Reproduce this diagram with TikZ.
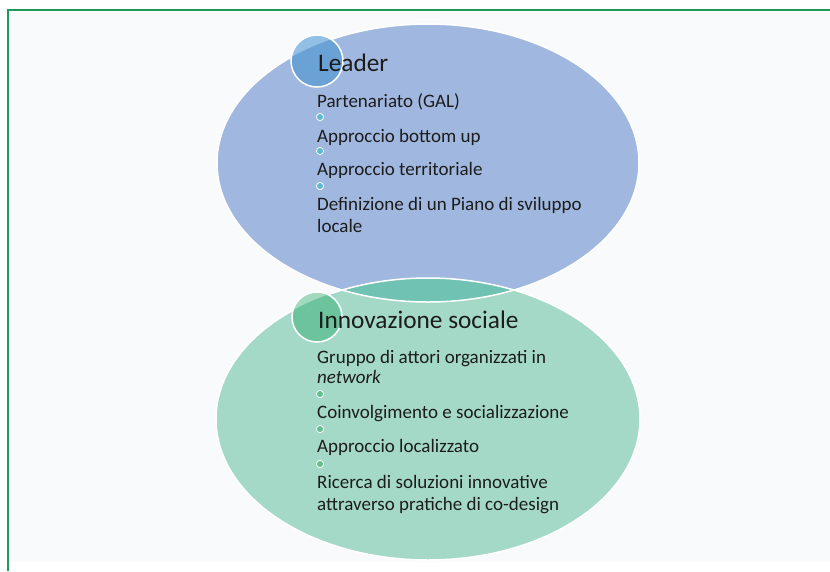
\documentclass[tikz,border=0pt]{standalone}
\usepackage{fontspec}
\setmainfont{Carlito}
\definecolor{framegreen}{HTML}{1E9A5C}
\definecolor{bgc}{HTML}{F9FAFC}
\definecolor{blueE}{HTML}{A0B8DF}
\definecolor{greenE}{HTML}{A4D9C8}
\definecolor{tealO}{HTML}{70C2B3}
\definecolor{blueC}{HTML}{6AA2D6}
\definecolor{blueCl}{HTML}{92BFE6}
\definecolor{greenC}{HTML}{6CC49C}
\definecolor{greenCl}{HTML}{A2D9BF}
\definecolor{blueDot}{HTML}{5DBAD3}
\definecolor{greenDot}{HTML}{62BE8E}
\definecolor{txt}{HTML}{1C1C1C}
\begin{document}
\begin{tikzpicture}[x=1pt,y=-1pt,
  item/.style={anchor=base west, inner sep=0pt, text=txt, font=\fontsize{19}{22}\selectfont},
  ttl/.style={anchor=base west, inner sep=0pt, text=txt, font=\fontsize{25.3}{30}\selectfont},
  bdot/.style={fill=blueDot, draw=white, line width=0.8pt},
  gdot/.style={fill=greenDot, draw=white, line width=0.8pt}]
\useasboundingbox (0,0) rectangle (830,571);
\fill[bgc] (9,11) rectangle (830,562);
\draw[framegreen, line width=1.8pt] (8,571) -- (8,10) -- (830,10);
% ellipses
\def\topE{(428,163) ellipse [x radius=211pt, y radius=139pt]}
\def\botE{(428,419) ellipse [x radius=212pt, y radius=141pt]}
\fill[blueE] \topE;
\fill[greenE] \botE;
\begin{scope}
  \clip \topE;
  \fill[tealO] \botE;
\end{scope}
\draw[white, line width=1.5pt] \topE;
\draw[white, line width=1.5pt] \botE;
% title circles
\fill[blueCl] (317,61) circle [radius=26pt];
\begin{scope}
  \clip \topE;
  \fill[blueC] (317,61) circle [radius=26pt];
\end{scope}
\draw[white, line width=1.5pt] (317,61) circle [radius=26pt];
\fill[greenCl] (317,317) circle [radius=25pt];
\begin{scope}
  \clip \botE;
  \fill[greenC] (317,317) circle [radius=25pt];
\end{scope}
\draw[white, line width=1.5pt] (317,317) circle [radius=25pt];
% Leader texts
\node[ttl] (t1) at (318,71) {Leader};
\node[item] (a1) at (317,107) {Partenariato (GAL)};
\draw[bdot] (320,117) circle [radius=3.6pt];
\node[item] (a2) at (317,142) {Approccio bottom up};
\draw[bdot] (320,151) circle [radius=3.6pt];
\node[item] (a3) at (317,175) {Approccio territoriale};
\draw[bdot] (320,186) circle [radius=3.6pt];
\node[item] (a4) at (317,210) {Definizione di un Piano di sviluppo};
\node[item] (a5) at (317,232) {locale};
% Innovazione texts
\node[ttl] (t2) at (318,328) {Innovazione sociale};
\node[item] (b1) at (317,363) {Gruppo di attori organizzati in};
\node[item] (b2) at (317,383) {\itshape network};
\draw[gdot] (320,394) circle [radius=3.6pt];
\node[item] (b3) at (317,418) {Coinvolgimento e socializzazione};
\draw[gdot] (320,429) circle [radius=3.6pt];
\node[item] (b4) at (317,452) {Approccio localizzato};
\draw[gdot] (320,464) circle [radius=3.6pt];
\node[item] (b5) at (317,488) {Ricerca di soluzioni innovative};
\node[item] (b6) at (317,510) {attraverso pratiche di co-design};
\end{tikzpicture}
\end{document}
